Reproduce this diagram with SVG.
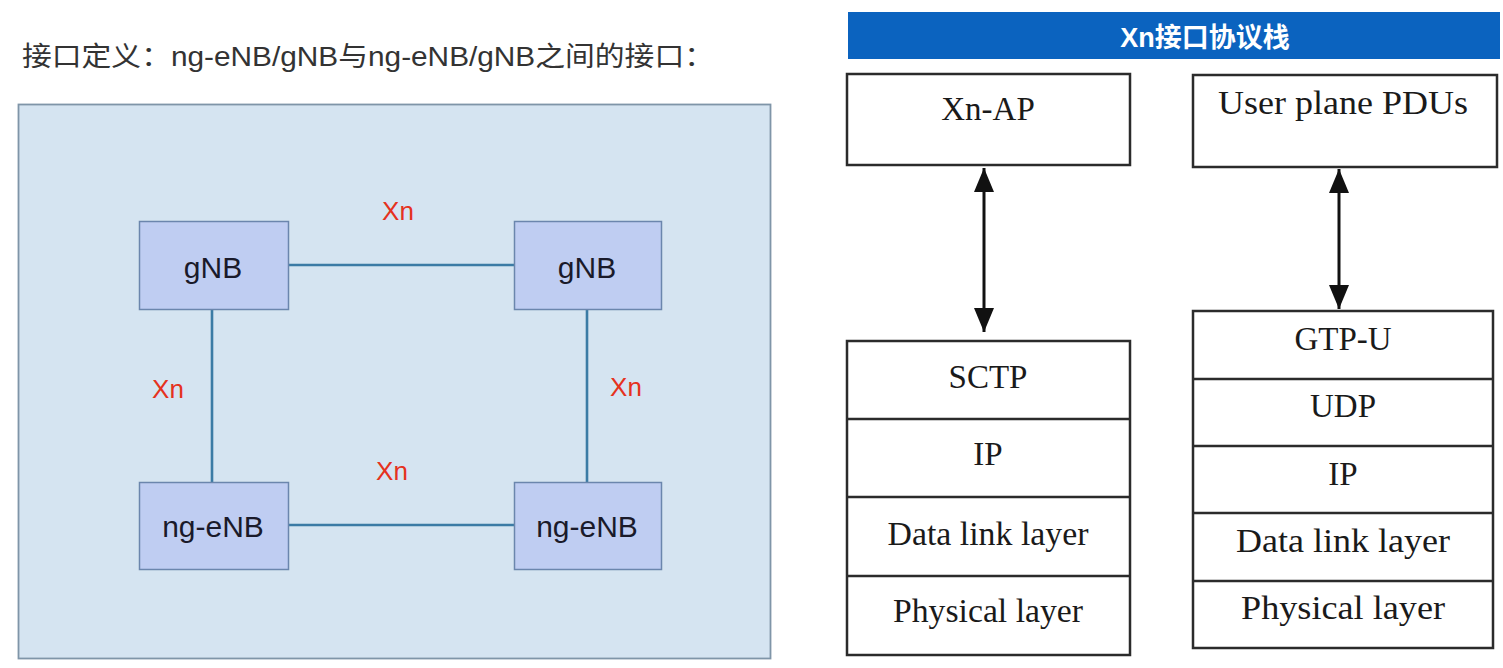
<svg xmlns="http://www.w3.org/2000/svg" width="1503" height="668" viewBox="0 0 1503 668">
<style>
.title{font-family:"Liberation Sans","Noto Sans CJK SC",sans-serif;font-size:27px;fill:#333}
.node rect{fill:#bfcdf2;stroke:#6b86ad;stroke-width:1.5}
.ntext{font-family:"Liberation Sans",sans-serif;font-size:30px;fill:#1a1a2a;text-anchor:middle}
.xn{font-family:"Liberation Sans",sans-serif;font-size:26px;fill:#e5321e;text-anchor:middle}
.conn line{stroke:#3b7ba5;stroke-width:2.6}
.layer{fill:#fff;stroke:#2b2b2b;stroke-width:2.5}
.div{stroke:#2b2b2b;stroke-width:2.5}
.ltext{font-family:"Liberation Serif",serif;font-size:33px;fill:#1a1a1a;text-anchor:middle}
.arrow{stroke:#111;stroke-width:3}
</style>
<defs>
<marker id="ah" viewBox="0 0 24 20" refX="24" refY="10" markerWidth="24" markerHeight="20" markerUnits="userSpaceOnUse" orient="auto-start-reverse">
<path d="M0,0 L24,10 L0,20 z" fill="#111"/>
</marker>
</defs>
<rect width="1503" height="668" fill="#fff"/>
<text class="title" x="22" y="66" textLength="692" lengthAdjust="spacingAndGlyphs">接口定义：ng-eNB/gNB与ng-eNB/gNB之间的接口：</text>
<g id="panel"><rect x="18.5" y="104.5" width="752" height="554" fill="#d5e4f1" stroke="#7f95a8" stroke-width="1.8"/></g>
<g id="connectors" class="conn">
<line x1="288" y1="265" x2="514" y2="265"/>
<line x1="288" y1="525" x2="514" y2="525"/>
<line x1="212" y1="309" x2="212" y2="482"/>
<line x1="587" y1="309" x2="587" y2="482"/>
</g>
<g id="xn-labels">
<text class="xn" x="398" y="220">Xn</text>
<text class="xn" x="168" y="398">Xn</text>
<text class="xn" x="626" y="396">Xn</text>
<text class="xn" x="392" y="480">Xn</text>
</g>
<g id="gnb-left" class="node"><rect x="139.5" y="221.5" width="149" height="88"/><text class="ntext" x="213" y="278">gNB</text></g>
<g id="gnb-right" class="node"><rect x="514.5" y="221.5" width="147" height="88"/><text class="ntext" x="587" y="278">gNB</text></g>
<g id="ngenb-left" class="node"><rect x="139.5" y="482.5" width="149" height="87"/><text class="ntext" x="213" y="537">ng-eNB</text></g>
<g id="ngenb-right" class="node"><rect x="514.5" y="482.5" width="147" height="87"/><text class="ntext" x="587" y="537">ng-eNB</text></g>

<g id="header"><rect x="848" y="12" width="652" height="47" fill="#0b63bf"/><text x="1205" y="47" text-anchor="middle" font-family="Liberation Sans,Noto Sans CJK SC,sans-serif" font-weight="bold" font-size="27" fill="#fff">Xn接口协议栈</text></g>

<g id="xn-ap"><rect class="layer" x="847" y="74" width="283" height="91"/><text class="ltext" x="988" y="120">Xn-AP</text></g>
<g id="user-plane-pdus"><rect class="layer" x="1193" y="75" width="304" height="92"/><text class="ltext" x="1343" y="114" textLength="250" lengthAdjust="spacingAndGlyphs">User plane PDUs</text></g>

<g id="arrows">
<line class="arrow" x1="984" y1="168" x2="984" y2="332" marker-start="url(#ah)" marker-end="url(#ah)"/>
<line class="arrow" x1="1339" y1="169" x2="1339" y2="309" marker-start="url(#ah)" marker-end="url(#ah)"/>
</g>

<g id="control-stack">
<rect class="layer" x="847" y="341" width="283" height="314"/>
<line class="div" x1="847" y1="419" x2="1130" y2="419"/>
<line class="div" x1="847" y1="497" x2="1130" y2="497"/>
<line class="div" x1="847" y1="576" x2="1130" y2="576"/>
<text class="ltext" x="988" y="388">SCTP</text>
<text class="ltext" x="988" y="465">IP</text>
<text class="ltext" x="988" y="545" textLength="201" lengthAdjust="spacingAndGlyphs">Data link layer</text>
<text class="ltext" x="988" y="622" textLength="190" lengthAdjust="spacingAndGlyphs">Physical layer</text>
</g>
<g id="user-stack">
<rect class="layer" x="1193" y="311" width="300" height="337"/>
<line class="div" x1="1193" y1="379" x2="1493" y2="379"/>
<line class="div" x1="1193" y1="446" x2="1493" y2="446"/>
<line class="div" x1="1193" y1="513" x2="1493" y2="513"/>
<line class="div" x1="1193" y1="581" x2="1493" y2="581"/>
<text class="ltext" x="1343" y="350">GTP-U</text>
<text class="ltext" x="1343" y="417">UDP</text>
<text class="ltext" x="1343" y="485">IP</text>
<text class="ltext" x="1343" y="552" textLength="214" lengthAdjust="spacingAndGlyphs">Data link layer</text>
<text class="ltext" x="1343" y="619" textLength="204" lengthAdjust="spacingAndGlyphs">Physical layer</text>
</g>
</svg>
